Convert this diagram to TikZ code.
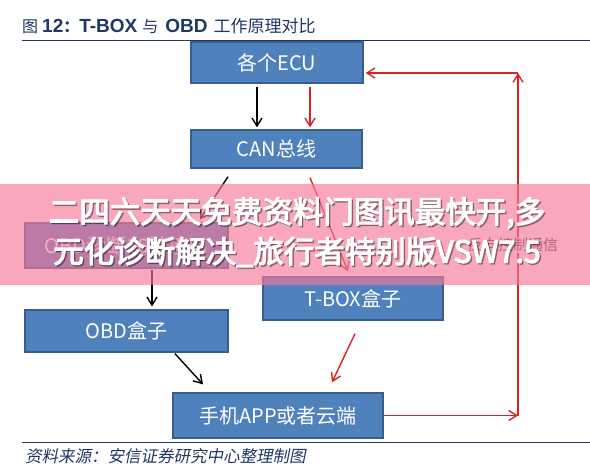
\documentclass[tikz,border=0pt]{standalone}
\usepackage{fontspec}
\setmainfont{Liberation Sans}
\newfontfamily\cjk{Noto Sans CJK SC}
\newfontfamily\cjkheavy[FakeBold=3.5]{Noto Sans CJK SC}
\newfontfamily\cjkslant[FakeSlant=0.2]{Noto Sans CJK SC}
\usetikzlibrary{arrows.meta,calc}
\definecolor{boxblue}{RGB}{79,129,189}
\definecolor{boxedge}{RGB}{56,93,138}
\definecolor{navy}{RGB}{31,56,100}
\definecolor{arrred}{RGB}{218,34,34}
\definecolor{bannerpink}{RGB}{246,121,155}
\begin{document}
\begin{tikzpicture}[x=1pt,y=-1pt,
  bluebox/.style={draw=boxedge, line width=1.3pt, fill=boxblue, text=white,
    font=\cjk\fontsize{20}{24}\selectfont, inner sep=0pt},
  blk/.style={draw=black, line width=1.4pt, -{Straight Barb[length=8pt,width=10pt,line width=1.4pt]}},
  redarr/.style={draw=arrred, line width=1.4pt, -{Straight Barb[length=8pt,width=10pt,line width=1.4pt]}},
  rule/.style={draw=navy, line width=1pt}]
\useasboundingbox (0,0) rectangle (590,471);
\fill[white] (0,0) rectangle (590,471);

% title
\node[anchor=base west, text=navy, inner sep=0pt] (title) at (22,32)
  {{\cjk\fontsize{16}{18}\selectfont 图}\hspace{4pt}{\bfseries\fontsize{19}{20}\selectfont 12}{\cjk\bfseries\fontsize{16}{18}\selectfont ：}{\bfseries\fontsize{19}{20}\selectfont T-BOX}\hspace{5pt}{\cjk\fontsize{16}{18}\selectfont 与}\hspace{7pt}{\bfseries\fontsize{19}{20}\selectfont OBD}\hspace{6pt}{\cjk\fontsize{17}{18}\selectfont 工作原理对比}};
\coordinate (tl) at (22,40);
\coordinate (tr) at (590,40);
\draw[rule] (tl) -- (tr);

% boxes
\node[bluebox, minimum width=172pt, minimum height=41pt] (ecu) at (277,62.5) {各个ECU};
\node[bluebox, minimum width=171pt, minimum height=38pt] (can) at (276.5,149) {CAN总线};
\node[bluebox, minimum width=203pt, minimum height=45pt] (obdd) at (126.5,245.5) {OBD诊断16针接口};
\node[bluebox, minimum width=180pt, minimum height=43pt] (tbox) at (353,298.5) {T-BOX盒子};
\node[bluebox, minimum width=203pt, minimum height=42pt] (obd) at (126.5,331) {OBD盒子};
\node[bluebox, minimum width=210pt, minimum height=45pt] (app) at (278,415.5) {手机APP或者云端};

% arrows
\draw[blk] ($(ecu.south)+(-20,3)$) -- ($(can.north)+(-19.5,-2)$);
\draw[redarr] ($(ecu.south)+(33,3)$) -- ($(can.north)+(33.5,-2)$);
\draw[blk] ($(can.south)+(-48.5,8)$) -- ($(obdd.north)+(73.5,-3)$);
\draw[redarr] ($(can.south)+(33.5,9)$) -- ($(tbox.north)+(-5,-5)$);
\draw[blk] ($(obdd.south)+(25.5,1)$) -- ($(obd.north)+(25.5,-3)$);
\draw[blk] ($(obd.south)+(48.5,1)$) -- ($(app.north)+(-75,-8)$);
\draw[redarr] ($(tbox.south)+(2,13)$) -- ($(app.north)+(54,-10)$);

\coordinate (c1) at (518,415.5);
\coordinate (c2) at (518,73);
\draw[redarr] (app.east) -- (c1);
\draw[redarr] (c1) -- (c2);
\draw[redarr] (c2) -- ($(ecu.east)+(2,10.5)$);
\node[fill=white, text=black!80, font=\cjk\fontsize{15}{17}\selectfont, inner sep=1pt] (lbl) at (513,245) {反向控制通信};

% source
\coordinate (bl) at (22,442);
\coordinate (br) at (590,442);
\draw[rule] (bl) -- (br);
\node[anchor=west, text=navy, font=\cjkslant\fontsize{16.5}{18}\selectfont, inner sep=0pt] (src) at (25,456) {资料来源：安信证券研究中心整理制图};

% overlay banner
\fill[bannerpink, opacity=0.65] (0,184) rectangle (590,285);
\node[text=black, opacity=0.3, font=\cjkheavy\fontsize{30.5}{32}\selectfont, inner sep=0pt] (b1s) at (298.5,214.5) {二四六天天免费资料门图讯最快开,多};
\node[text=white, font=\cjkheavy\fontsize{30.5}{32}\selectfont, inner sep=0pt] (b1) at (297,213) {二四六天天免费资料门图讯最快开,多};
\node[text=black, opacity=0.3, font=\cjkheavy\fontsize{30.5}{32}\selectfont, inner sep=0pt] (b2s) at (298.5,253.5) {元化诊断解决\_旅行者特别版VSW7.5};
\node[text=white, font=\cjkheavy\fontsize{30.5}{32}\selectfont, inner sep=0pt] (b2) at (297,252) {元化诊断解决\_旅行者特别版VSW7.5};
\end{tikzpicture}
\end{document}
